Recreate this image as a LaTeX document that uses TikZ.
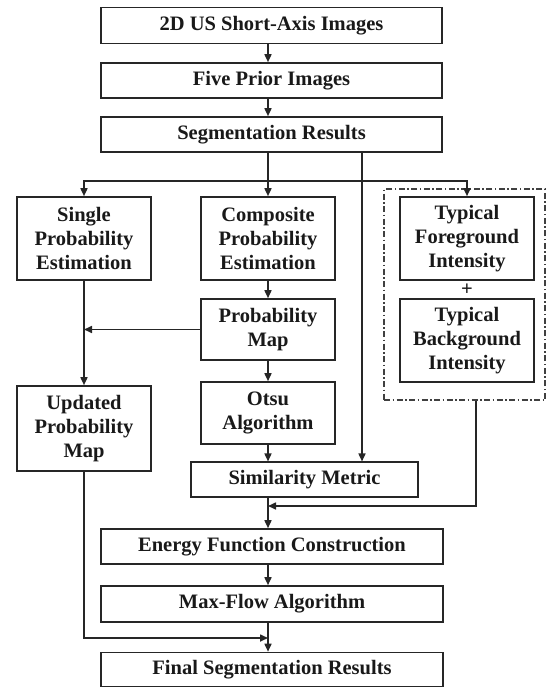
\documentclass[tikz,border=0pt]{standalone}
\usepackage{fontspec}
\setmainfont{Liberation Serif}
\usetikzlibrary{arrows.meta}
\begin{document}
\begin{tikzpicture}[x=1pt,y=-1pt,
  box/.style={draw=black!85, line width=1.6pt, fill=white, align=center, inner sep=0pt,
    text=black!90, font=\fontsize{20.5}{23.7}\selectfont\bfseries},
  arr/.style={draw=black!85, line width=1.6pt, -{Triangle[length=8pt,width=7pt]}},
  ln/.style={draw=black!85, line width=1.6pt},
  dashbox/.style={draw=black!75, line width=1.2pt, dash pattern=on 6pt off 2.5pt on 1.5pt off 2.5pt}]
\useasboundingbox (0,0) rectangle (546,688);
\node[dashbox, minimum width=161pt, minimum height=211pt] (dbox) at (464.5,294.5) {};
\node[box, minimum width=341pt, minimum height=36pt] (b1) at (271.5,25.5) {2D US Short-Axis Images};
\node[box, minimum width=341pt, minimum height=35pt] (b2) at (271.5,80.5) {Five Prior Images};
\node[box, minimum width=341pt, minimum height=35pt] (b3) at (271.5,134.5) {Segmentation Results};
\node[box, minimum width=134pt, minimum height=83pt] (single) at (84,238.5) {Single\\Probability\\Estimation};
\node[box, minimum width=134pt, minimum height=83pt] (comp) at (268,238.5) {Composite\\Probability\\Estimation};
\node[box, minimum width=134pt, minimum height=83pt] (tfg) at (467,238.5) {Typical\\Foreground\\Intensity};
\node[font=\fontsize{20.5}{23.7}\selectfont\bfseries, text=black!90, inner sep=0pt] (plus) at (467,290) {+};
\node[box, minimum width=134pt, minimum height=83pt] (tbg) at (467,340.5) {Typical\\Background\\Intensity};
\node[box, minimum width=134pt, minimum height=61pt] (pmap) at (268,329.5) {Probability\\Map};
\node[box, minimum width=134pt, minimum height=85pt] (upd) at (84,428.5) {Updated\\Probability\\Map};
\node[box, minimum width=134pt, minimum height=62pt] (otsu) at (268,413) {Otsu\\Algorithm};
\node[box, minimum width=227pt, minimum height=35pt] (sim) at (304.5,479.75) {Similarity Metric};
\node[box, minimum width=342pt, minimum height=35pt] (energy) at (272,546.5) {Energy Function Construction};
\node[box, minimum width=342pt, minimum height=36pt] (mf) at (272,604) {Max-Flow Algorithm};
\node[box, minimum width=342pt, minimum height=34pt] (final) at (272,669.5) {Final Segmentation Results};
\coordinate (col) at (268,0);
\coordinate (rv) at (362,0);
\coordinate (mx) at (476,0);
\coordinate (br) at (268,181);
\coordinate (merge) at (268,506);
\coordinate (ret) at (268,638);
\draw[arr] (b1.south -| col) -- (b2.north -| col);
\draw[arr] (b2.south -| col) -- (b3.north -| col);
\draw[ln] (b3.south -| col) -- (br);
\draw[arr] (br) -| (single.north);
\draw[arr] (br) -- (comp.north);
\draw[arr] (br) -| (tfg.north);
\draw[arr] (b3.south -| rv) -- (sim.north -| rv);
\draw[arr] (comp.south) -- (pmap.north);
\draw[arr] (pmap.west) -- (pmap.west -| single.south);
\draw[arr] (single.south) -- (upd.north);
\draw[arr] (pmap.south) -- (otsu.north);
\draw[arr] (otsu.south) -- (sim.north -| col);
\draw[arr] (dbox.south -| mx) |- (merge);
\draw[arr] (sim.south -| col) -- (energy.north -| col);
\draw[arr] (energy.south -| col) -- (mf.north -| col);
\draw[arr] (upd.south) |- (ret);
\draw[arr] (mf.south -| col) -- (final.north -| col);
\end{tikzpicture}
\end{document}
